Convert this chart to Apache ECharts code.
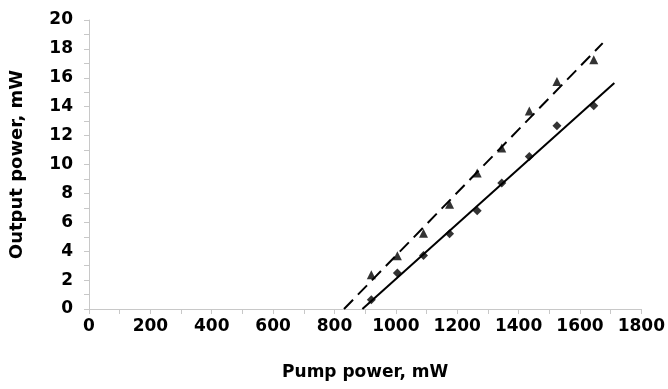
<!DOCTYPE html>
<html>
<head>
<meta charset="utf-8">
<script src="https://cdn.jsdelivr.net/npm/echarts@6/dist/echarts.min.js"></script>
<style>
  html, body { margin: 0; padding: 0; background: #fff; }
  #chart { width: 668px; height: 389px; }
</style>
</head>
<body>
<div id="chart"></div>
<script>
// measured points (pump power mW -> output power mW)
const pumpPower = [920, 1005, 1090, 1175, 1265, 1345, 1435, 1525, 1645]
const outputTriangle = [2.37, 3.69, 5.25, 7.25, 9.41, 11.15, 13.7, 15.75, 17.25]
const outputDiamond = [0.64, 2.49, 3.7, 5.2, 6.8, 8.72, 10.55, 12.68, 14.07]

// linear fit lines, end points
const fitDashedX = [831, 1674]
const fitDashedY = [0, 18.4]
const fitSolidX = [891, 1712]
const fitSolidY = [0, 15.64]

const pairs = (xs, ys) => xs.map((x, i) => [x, ys[i]])

const font = 'DejaVu Sans'
const axisGrey = '#c8c8c8'

const chart = echarts.init(document.getElementById('chart'))
const option = {
    animation: false,
    grid: {
        left: 89,
        right: 24,
        top: 20,
        bottom: 80
    },
    xAxis: {
        type: 'value',
        min: 0,
        max: 1800,
        interval: 100,
        name: 'Pump power, mW',
        nameLocation: 'middle',
        nameGap: 55,
        nameTextStyle: {fontFamily: font, fontWeight: 'bold', fontSize: 17, color: '#000'},
        axisLine: {show: true, lineStyle: {color: axisGrey, width: 1}},
        axisTick: {show: true, length: 5, lineStyle: {color: axisGrey}},
        axisLabel: {
            margin: 9,
            fontFamily: font,
            fontWeight: 'bold',
            fontSize: 17,
            color: '#000',
            formatter: (v) => (v % 200 === 0 ? String(v) : '')
        },
        splitLine: {show: false}
    },
    yAxis: {
        type: 'value',
        min: 0,
        max: 20,
        interval: 1,
        name: 'Output power, mW',
        nameLocation: 'middle',
        nameGap: 63,
        nameTextStyle: {fontFamily: font, fontWeight: 'bold', fontSize: 18, color: '#000'},
        axisLine: {show: true, lineStyle: {color: axisGrey, width: 1}},
        axisTick: {show: true, length: 5, lineStyle: {color: axisGrey}},
        axisLabel: {
            margin: 16,
            fontFamily: font,
            fontWeight: 'bold',
            fontSize: 17,
            color: '#000',
            formatter: (v) => (v % 2 === 0 ? String(v) : '')
        },
        splitLine: {show: false}
    },
    series: [
        {
            name: 'fit dashed',
            type: 'line',
            data: pairs(fitDashedX, fitDashedY),
            symbol: 'none',
            lineStyle: {color: '#000', width: 2, type: [13, 7]},
            z: 2
        },
        {
            name: 'fit solid',
            type: 'line',
            data: pairs(fitSolidX, fitSolidY),
            symbol: 'none',
            lineStyle: {color: '#000', width: 2},
            z: 2
        },
        {
            name: 'triangle',
            type: 'scatter',
            data: pairs(pumpPower, outputTriangle),
            symbol: 'triangle',
            symbolSize: 9,
            itemStyle: {color: '#000'},
            z: 3
        },
        {
            name: 'diamond',
            type: 'scatter',
            data: pairs(pumpPower, outputDiamond),
            symbol: 'diamond',
            symbolSize: 9,
            itemStyle: {color: '#000'},
            z: 3
        }
    ]
}
chart.setOption(option)
</script>
</body>
</html>
